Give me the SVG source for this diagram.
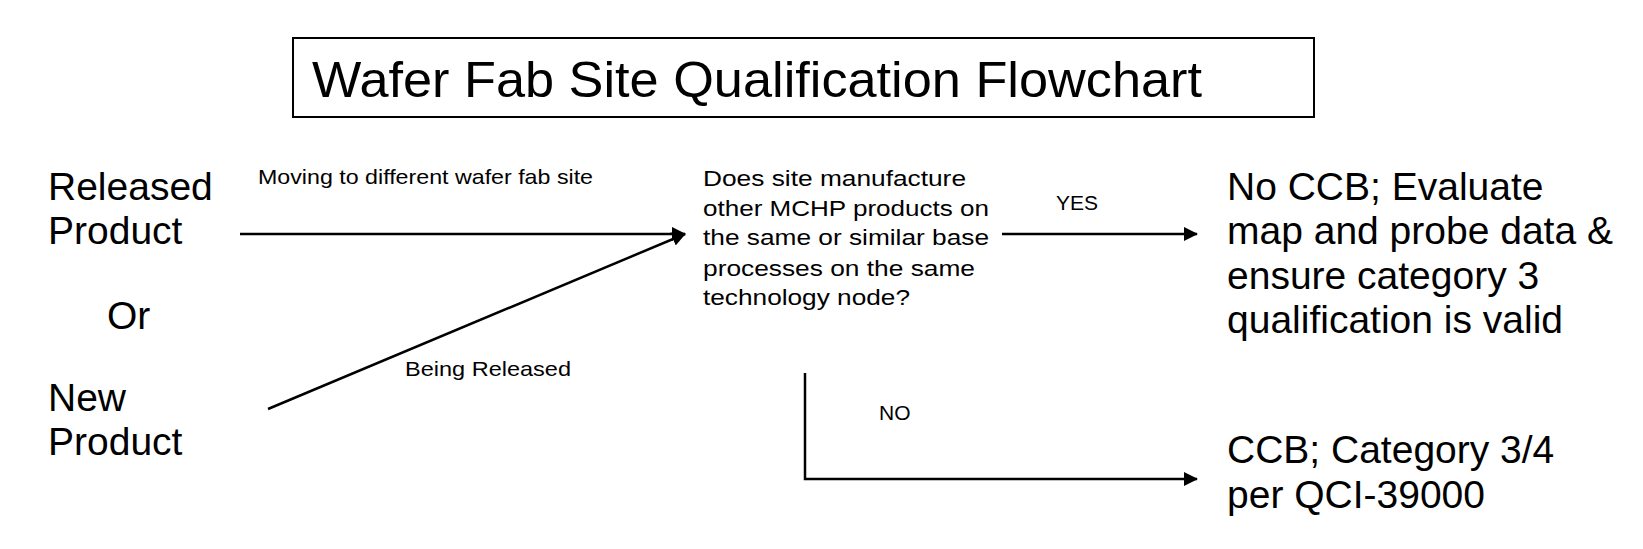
<svg xmlns="http://www.w3.org/2000/svg" width="1643" height="549" viewBox="0 0 1643 549">
<style>
text{font-family:"Liberation Sans",Arial,sans-serif;fill:#000}
.big{font-size:39px}.sm{font-size:21px}.q{font-size:22px}
.ln{stroke:#000;stroke-width:2.5;fill:none}
</style>
<defs><marker id="ah2" markerWidth="14" markerHeight="14" refX="13" refY="7" orient="auto" markerUnits="userSpaceOnUse"><path d="M0,0 L14,7 L0,14Z" fill="#000"/></marker></defs>
<rect width="1643" height="549" fill="#fff"/>
<g id="title"><rect x="293" y="38" width="1021" height="79" fill="#fff" stroke="#000" stroke-width="2"/><text x="312" y="97" font-size="50.5" textLength="890" lengthAdjust="spacingAndGlyphs">Wafer Fab Site Qualification Flowchart</text></g>
<g id="released"><text class="big" x="48" y="200">Released</text><text class="big" x="48" y="244">Product</text></g>
<g id="or"><text class="big" x="107" y="329">Or</text></g>
<g id="new"><text class="big" x="48" y="411">New</text><text class="big" x="48" y="455">Product</text></g>
<g id="question" lengthAdjust="spacingAndGlyphs"><text class="q" x="703" y="186" textLength="263" lengthAdjust="spacingAndGlyphs">Does site manufacture</text><text class="q" x="703" y="216" textLength="286" lengthAdjust="spacingAndGlyphs">other MCHP products on</text><text class="q" x="703" y="245" textLength="286" lengthAdjust="spacingAndGlyphs">the same or similar base</text><text class="q" x="703" y="276" textLength="272" lengthAdjust="spacingAndGlyphs">processes on the same</text><text class="q" x="703" y="305" textLength="207" lengthAdjust="spacingAndGlyphs">technology node?</text></g>
<g id="yesResult"><text class="big" x="1227" y="200">No CCB; Evaluate</text><text class="big" x="1227" y="244">map and probe data &amp;</text><text class="big" x="1227" y="289">ensure category 3</text><text class="big" x="1227" y="333">qualification is valid</text></g>
<g id="noResult"><text class="big" x="1227" y="463">CCB; Category 3/4</text><text class="big" x="1227" y="508">per QCI-39000</text></g>
<g id="connectors">
<line class="ln" x1="240" y1="234" x2="685" y2="234" marker-end="url(#ah2)"/>
<line class="ln" x1="268" y1="409" x2="685" y2="234" marker-end="url(#ah2)"/>
<line class="ln" x1="1002" y1="234" x2="1197" y2="234" marker-end="url(#ah2)"/>
<polyline class="ln" points="805,373 805,479 1197,479" marker-end="url(#ah2)"/>
<text class="sm" x="258" y="184" textLength="335" lengthAdjust="spacingAndGlyphs">Moving to different wafer fab site</text>
<text class="sm" x="405" y="376" textLength="166" lengthAdjust="spacingAndGlyphs">Being Released</text>
<text class="sm" x="1056" y="210">YES</text>
<text class="sm" x="879" y="420">NO</text>
</g>
</svg>
